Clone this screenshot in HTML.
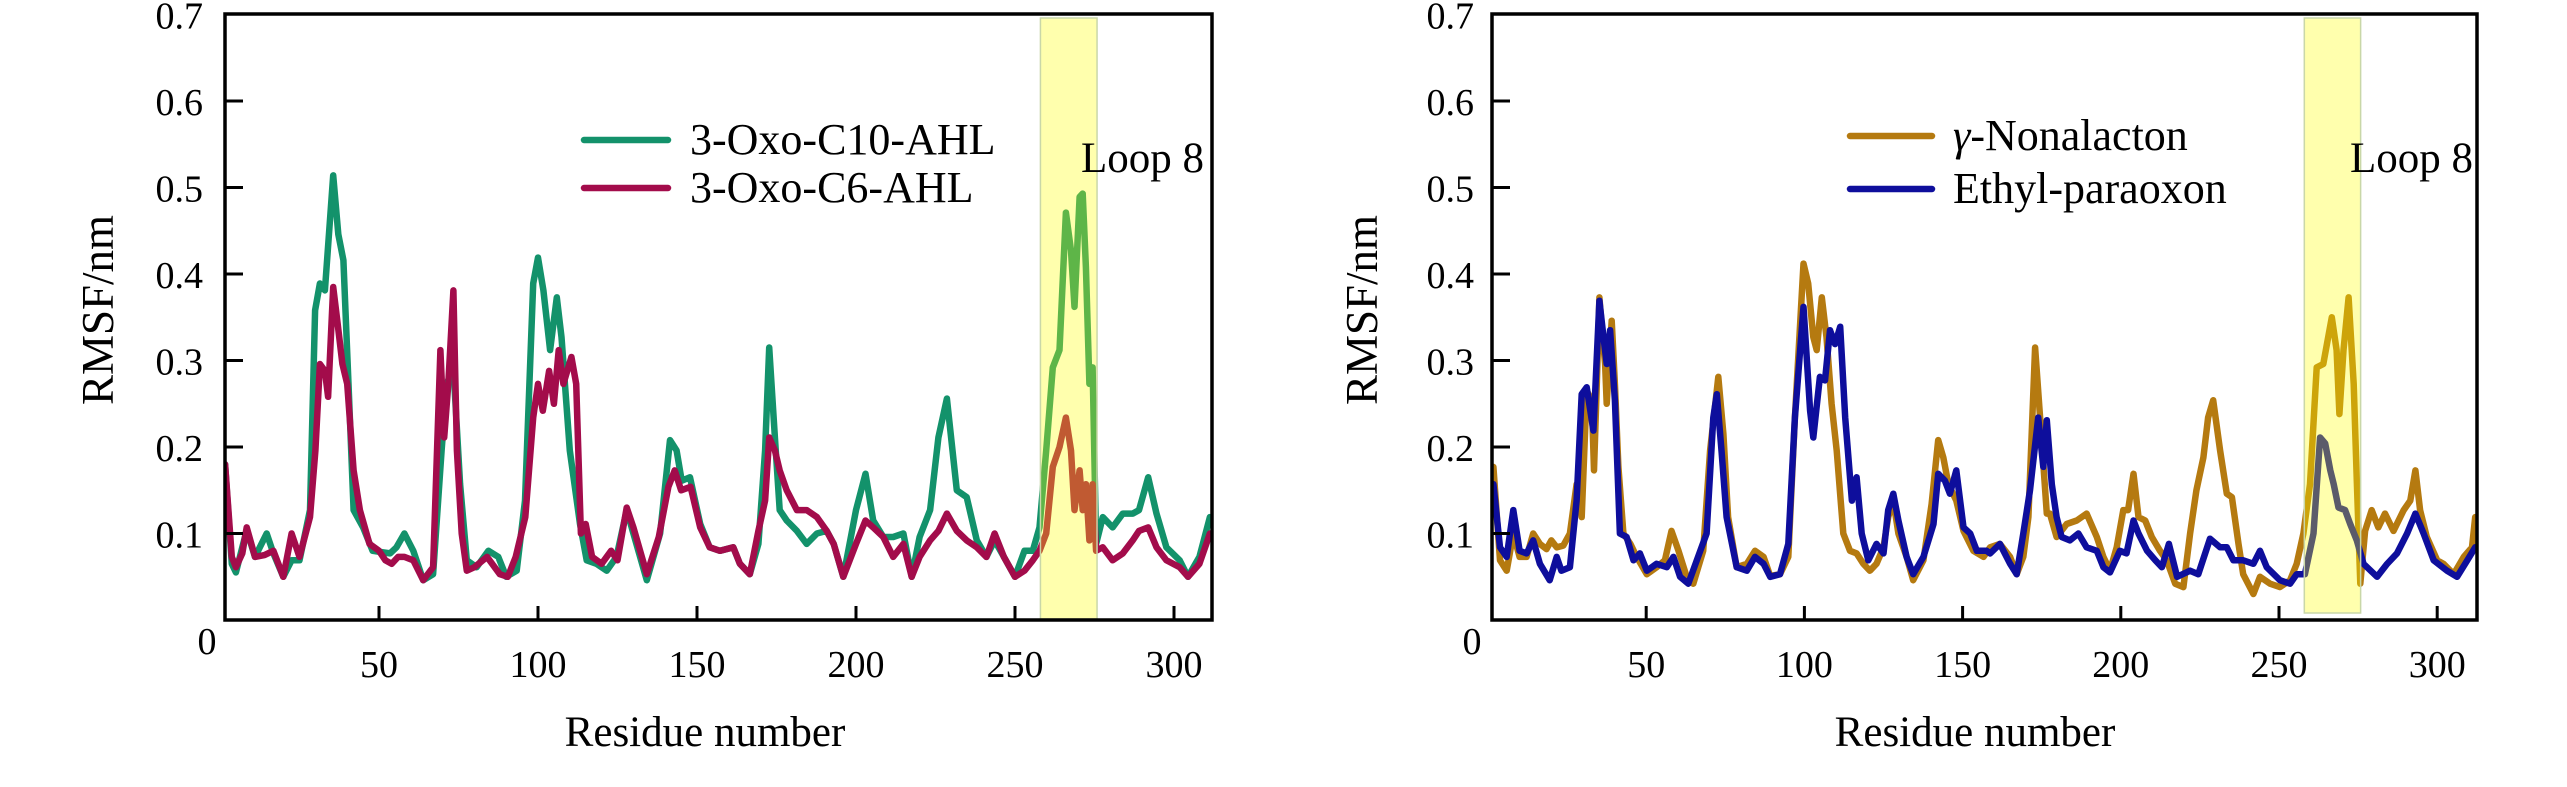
<!DOCTYPE html>
<html><head><meta charset="utf-8">
<style>
html,body{margin:0;padding:0;background:#fff;}
svg{display:block;font-family:"Liberation Serif",serif;}
</style></head>
<body>
<svg id="fig" width="2567" height="787" viewBox="0 0 2567 787" xmlns="http://www.w3.org/2000/svg">
<rect x="0" y="0" width="2567" height="787" fill="#fff"/>
<g id="p1"></g>
<g id="p2"></g>
</svg>
<script>
// ---- data: left panel ----
const resG = [1.6,3.7,5,8.4,11,14.7,16.8,19.9,22.5,25,28.3,29.9,31.4,33,35.6,37.2,38.8,40.4,42,45,48,53.5,55.5,58,60.8,63.9,67,69.7,71.3,73.4,75.5,77.6,80.7,84.4,87.5,90,93.3,95.9,98.5,100,101.7,103.8,105.9,107.4,110,113.2,115.3,118.4,121.6,124.7,127.9,130,134.2,138.4,141.5,143.6,145.2,147.8,151,154,157.2,161.4,163.5,166.6,169.3,171.4,172.7,174.5,176,178.2,181.4,184.5,187.7,190.8,193,196,200,203,205.4,208.6,211.7,214.9,217.5,220,223.3,225.9,228.6,231.7,234.8,238,241,243.6,246.5,250,253,255.6,257.7,259.8,261.9,264,266,267.6,268.7,270.3,271.3,272.3,273.4,274.4,275.5,277.6,280.7,283.9,287,289,291.9,294.5,297.6,301.8,304.4,308,311.3];
const valG = [.18,.065,.055,.104,.073,.10,.077,.05,.069,.069,.127,.358,.389,.381,.514,.446,.416,.273,.127,.107,.08,.077,.084,.10,.08,.046,.053,.196,.273,.292,.157,.069,.061,.08,.073,.05,.057,.138,.389,.419,.381,.312,.373,.327,.196,.111,.069,.065,.057,.073,.127,.10,.046,.10,.208,.196,.161,.165,.111,.084,.08,.084,.065,.053,.088,.196,.315,.211,.127,.115,.103,.088,.1,.103,.088,.05,.127,.169,.115,.096,.096,.1,.05,.096,.127,.211,.256,.15,.142,.092,.073,.092,.073,.05,.08,.08,.107,.196,.292,.312,.471,.427,.362,.489,.493,.408,.273,.292,.088,.119,.107,.123,.123,.127,.165,.123,.084,.069,.05,.073,.119];
const resC = [1.6,3.7,5,7,8.4,11,14,16.8,19.9,22.5,25,28.3,30,31.4,33,34,35.6,37,38.5,40,42,44,47,50,52,54,56,58,60.8,63.9,67,69.3,70.5,71.8,73.4,74.5,76,77.6,80,84,88,90.5,93,96,98.5,100,101.5,103.5,105,106.5,108,110.5,112,113.5,115,117,120,123,125,127.9,130,134.2,138,141,143,145,148,151,154,157.2,161.4,163.5,166.6,169.3,171.4,172.7,174.5,176,178.2,181.4,184.5,187.7,190.8,193,196,200,203,205.4,208.6,211.7,214.9,217.5,220,223.3,225.9,228.6,231.7,234.8,238,241,243.6,246.5,250,253,255.6,257.7,259.8,261.9,264,266,267.6,268.7,270.3,271.3,272.3,273.4,274.4,275.5,277.6,280.7,283.9,287,289,291.9,294.5,297.6,301.8,304.4,308,311.3];
const valC = [.18,.073,.061,.077,.107,.073,.075,.08,.05,.1,.073,.119,.196,.296,.288,.258,.385,.342,.296,.273,.173,.127,.088,.08,.069,.065,.073,.073,.069,.046,.061,.312,.211,.273,.381,.196,.1,.057,.061,.073,.053,.05,.073,.119,.234,.273,.242,.288,.25,.312,.273,.304,.273,.1,.111,.073,.065,.08,.069,.13,.107,.053,.096,.154,.173,.15,.154,.107,.084,.08,.084,.065,.053,.103,.138,.211,.196,.173,.15,.127,.127,.119,.103,.088,.05,.088,.115,.107,.096,.073,.088,.05,.073,.092,.103,.123,.103,.092,.084,.073,.1,.073,.05,.057,.069,.08,.1,.177,.2,.234,.196,.127,.173,.127,.157,.092,.157,.08,.084,.069,.077,.092,.103,.107,.084,.069,.061,.05,.065,.1];
// ---- data: right panel ----
const resY = [1.7,3.8,5.9,8,10,12.2,14.3,16.4,18.5,20,21.7,23.8,25.9,28,29.6,31.2,32.8,33.5,34.4,35.2,35.9,37,37.5,39.1,40.1,41.2,42.8,45,47,50.2,53.3,55.9,58,60.2,62.8,64.9,68,70.2,72.8,74.4,75.9,78.6,81.8,84.4,87.1,89.2,92.3,94.9,97,99.7,101.2,102.8,103.9,105.5,107,108.6,110.2,112.3,114.4,116.5,118.6,120.7,122.8,125,126.5,128.1,129.7,132.3,134.4,137.6,140.2,142.3,143.9,145.5,148,150.3,153.4,156.6,158.7,161.8,165,167.1,169.2,170.8,172.9,174.5,176.6,177.6,179.7,182.9,186.1,189.2,192.4,194.5,196.6,198.7,200.8,202.3,204,205.6,207.7,209.8,212.4,214.5,217.2,219.8,221.9,223.9,226.1,227.6,229.2,231.4,233.5,235.1,237.2,238.7,241.9,244,247.2,250.3,253.5,255.6,257.7,259.8,261.9,264,266.7,268.2,269.1,270.4,272,273.6,274.6,275.7,277.2,279.3,281.4,283.5,286.2,289.4,291.5,293.1,294.6,296.7,300,302,305.2,308.4,311,312];
const valY = [.177,.069,.057,.1,.073,.073,.1,.088,.082,.092,.084,.086,.1,.157,.119,.265,.254,.173,.273,.373,.342,.296,.25,.346,.273,.177,.1,.088,.073,.053,.061,.069,.103,.08,.05,.042,.08,.196,.281,.215,.119,.061,.065,.08,.073,.051,.053,.073,.234,.412,.389,.327,.312,.373,.327,.25,.196,.1,.08,.077,.065,.057,.065,.084,.119,.138,.1,.073,.046,.069,.134,.208,.188,.157,.138,.103,.08,.073,.084,.088,.073,.053,.073,.119,.315,.234,.123,.123,.096,.111,.115,.123,.096,.073,.057,.084,.127,.127,.169,.119,.115,.096,.08,.069,.042,.038,.1,.15,.188,.234,.254,.196,.146,.142,.088,.053,.03,.05,.042,.038,.046,.065,.1,.157,.292,.296,.35,.312,.238,.312,.373,.273,.161,.042,.103,.127,.107,.123,.103,.127,.138,.173,.127,.096,.069,.065,.053,.073,.084,.119];
const resB = [1.7,3.8,5.9,8,10,12.2,14.3,16.4,19.5,21.7,23.2,25.9,28,29.6,31.2,33.3,35.2,36.5,37.5,38.6,40.1,41.7,43.8,46,48,50.2,53.3,56.5,58.6,60.7,63.3,66,69.1,71.2,72.3,73.8,75.4,78.6,81.8,84.4,87.1,89.2,92.3,94.9,97,99.7,101.8,102.8,104.9,106.5,108.1,109.7,111.3,112.9,115,116.5,118.1,120.2,122.8,125,126.5,128.1,129.7,132.3,134.4,137.6,140.8,142.3,144.4,146,148,150.3,152.4,154.5,157.6,158.7,161.8,165,167.1,169.2,171.3,173.9,175.5,176.6,178.2,179.7,181.3,183.9,186.6,189.2,192.4,194.5,196.6,199.7,201.8,204,205.6,208.3,210.9,213,215.2,217.8,221.9,224.5,228.2,231.4,233.5,235.6,238.7,241.9,244,246.1,250.3,253.5,255.6,258.2,260.9,263,264.6,266.2,267.3,268.8,270.9,272.5,274.6,276.7,281,284.2,287.3,290.5,293.1,295.7,298.9,303.1,306.3,309.5,312];
const valB = [.157,.084,.073,.127,.08,.077,.092,.065,.046,.073,.057,.061,.138,.261,.269,.219,.369,.327,.296,.335,.254,.1,.096,.069,.077,.057,.065,.061,.073,.05,.042,.069,.1,.234,.261,.196,.119,.061,.057,.073,.065,.05,.053,.088,.234,.362,.242,.211,.281,.277,.335,.319,.339,.234,.138,.165,.1,.069,.088,.077,.127,.146,.115,.073,.053,.073,.111,.169,.161,.146,.173,.107,.1,.08,.08,.077,.088,.065,.053,.1,.15,.234,.177,.231,.157,.119,.096,.092,.1,.084,.08,.061,.055,.08,.077,.115,.1,.08,.069,.061,.088,.05,.057,.053,.094,.084,.084,.069,.069,.065,.08,.061,.046,.042,.053,.053,.1,.211,.204,.173,.157,.13,.127,.111,.092,.065,.05,.065,.077,.1,.123,.1,.069,.057,.05,.069,.084];
const yTicks = [0.1,0.2,0.3,0.4,0.5,0.6];
const yTickLabels = ["0.1","0.2","0.3","0.4","0.5","0.6","0.7"];
const xTicks = [50,100,150,200,250,300];
const loopRange = [258,275.8];

const NS = "http://www.w3.org/2000/svg";
function mk(parent, tag, attrs, text){
  const e = document.createElementNS(NS, tag);
  for (const k in attrs) e.setAttribute(k, attrs[k]);
  if (text !== undefined) e.textContent = text;
  parent.appendChild(e);
  return e;
}

function panel(g, opt){
  const L = opt.left, R = opt.right, T = 14, B = 620;
  const xs = r => opt.x0 + r * opt.xk;
  const ys = v => B - v * 865;
  const clipId = opt.id + "-clip";
  const defs = mk(g, "defs", {});
  const cp = mk(defs, "clipPath", {id: clipId});
  mk(cp, "rect", {x: L, y: T, width: R - L, height: B - T});

  opt.series.forEach(s => {
    let d = "";
    s.res.forEach((r, i) => { d += (i ? "L" : "M") + xs(r).toFixed(1) + " " + ys(s.val[i]).toFixed(1); });
    const p = mk(g, "path", {d: d, fill: "none", stroke: s.color, "stroke-width": 6.5, "stroke-linejoin": "round", "stroke-linecap": "round", "clip-path": "url(#" + clipId + ")"});
    
    
  });

  const band = mk(g, "rect", {x: xs(loopRange[0]), y: 18, width: xs(loopRange[1]) - xs(loopRange[0]), height: opt.bandBottom - 18, fill: "rgba(255,255,0,0.32)", stroke: "#c9d7a8", "stroke-width": 1.5});
  
  
  const lt = mk(g, "text", {x: opt.loopRight, y: 172, "font-size": 43, "text-anchor": "end"}, "Loop 8");
  
  

  const fr = mk(g, "rect", {x: L, y: T, width: R - L, height: B - T, fill: "none", stroke: "#000", "stroke-width": 3.5});
  
  

  yTicks.forEach((v, i) => {
    const t = mk(g, "line", {x1: L, x2: L + 18, y1: ys(v), y2: ys(v), stroke: "#000", "stroke-width": 3});
    
    
  });
  yTickLabels.forEach((s, i) => {
    const v = (i + 1) / 10;
    const tl = mk(g, "text", {x: opt.yLabR, y: ys(v) + 14, "font-size": 38, "text-anchor": "end"}, s);
    
    
  });
  const z = mk(g, "text", {x: opt.zeroX, y: 654, "font-size": 38, "text-anchor": "middle"}, "0");
  
  

  xTicks.forEach(r => {
    const t = mk(g, "line", {x1: xs(r), x2: xs(r), y1: B, y2: B - 14, stroke: "#000", "stroke-width": 3});
    
    
    const tl = mk(g, "text", {x: xs(r), y: 677, "font-size": 38, "text-anchor": "middle"}, String(r));
    
    
  });

  const xt = mk(g, "text", {x: opt.xTitleX, y: 746, "font-size": 43, "text-anchor": "middle"}, "Residue number");
  
  
  const yt = mk(g, "text", {x: 0, y: 0, "font-size": 45, "text-anchor": "middle", transform: "translate(" + (opt.yTitleX + 15) + ",310) rotate(-90)"}, "RMSF/nm");
  
  

  opt.series.forEach((s, i) => {
    const ly = opt.legY[i];
    const ll = mk(g, "line", {x1: opt.legX1, x2: opt.legX2, y1: ly, y2: ly, stroke: s.color, "stroke-width": 6.5, "stroke-linecap": "round"});
    
    
    const tx = mk(g, "text", {x: opt.legTX, y: ly + 14, "font-size": 44}, "");
    
    
    if (s.greek) {
      mk(tx, "tspan", {"font-style": "italic"}, "γ");
      mk(tx, "tspan", {}, s.label.slice(1));
    } else tx.textContent = s.label;
  });
}

panel(document.getElementById("p1"), {
  id: "p1", left: 225, right: 1212, x0: 220, xk: 3.18, bandBottom: 619,
  loopRight: 1204, yLabR: 203, zeroX: 207, xTitleX: 705, yTitleX: 98,
  legX1: 584, legX2: 668, legTX: 690, legY: [140, 188],
  series: [
    {name: "series-3-oxo-c10-ahl", label: "3-Oxo-C10-AHL", color: "#13926b", res: resG, val: valG},
    {name: "series-3-oxo-c6-ahl", label: "3-Oxo-C6-AHL", color: "#a30c4b", res: resC, val: valC}
  ]
});
panel(document.getElementById("p2"), {
  id: "p2", left: 1492, right: 2477, x0: 1488, xk: 3.164, bandBottom: 613,
  loopRight: 2473, yLabR: 1474, zeroX: 1472, xTitleX: 1975, yTitleX: 1362,
  legX1: 1850, legX2: 1932, legTX: 1953, legY: [136, 189],
  series: [
    {name: "series-gamma-nonalacton", label: "γ-Nonalacton", greek: true, color: "#b57a10", res: resY, val: valY},
    {name: "series-ethyl-paraoxon", label: "Ethyl-paraoxon", color: "#0e0e9c", res: resB, val: valB}
  ]
});
</script>
</body></html>
